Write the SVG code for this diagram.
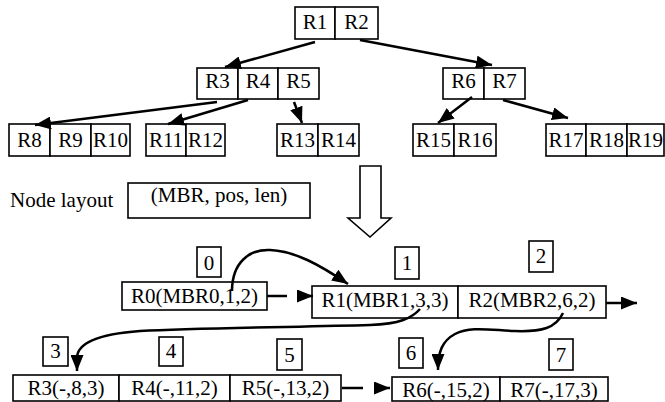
<svg xmlns="http://www.w3.org/2000/svg" width="665" height="402" viewBox="0 0 665 402" font-family="'Liberation Serif', 'Times New Roman', serif">
<defs>
<style>
text{font-family:'Liberation Serif','Times New Roman',serif}
.b{fill:#fff;stroke:#000;stroke-width:1.6}
.t{font-size:21px;fill:#000;text-anchor:middle}
.tl{font-size:21px;fill:#000}
.c{fill:none;stroke:#000;stroke-width:2.5}
</style>
<marker id="ah" markerUnits="userSpaceOnUse" markerWidth="17" markerHeight="13" refX="16" refY="6.5" orient="auto" viewBox="0 0 17 13">
<path d="M0,0 L16,6.5 L0,13 z" fill="#000"/>
</marker>
</defs>
<rect width="665" height="402" fill="#fff"/>

<g id="n-r1r2">
<rect class="b" x="295" y="7" width="40" height="32"/><rect class="b" x="335" y="7" width="43" height="32"/>
<text class="t" x="315" y="29">R1</text><text class="t" x="356.5" y="29">R2</text>
</g>
<g id="n-r3r4r5">
<rect class="b" x="197" y="68" width="41" height="31"/><rect class="b" x="238" y="68" width="40" height="31"/><rect class="b" x="278" y="68" width="41" height="31"/>
<text class="t" x="217.5" y="88">R3</text><text class="t" x="258" y="88">R4</text><text class="t" x="298.5" y="88">R5</text>
</g>
<g id="n-r6r7">
<rect class="b" x="443" y="68" width="41" height="31"/><rect class="b" x="484" y="68" width="41" height="31"/>
<text class="t" x="463.5" y="88">R6</text><text class="t" x="504.5" y="88">R7</text>
</g>
<g id="n-r8r9r10">
<rect class="b" x="9" y="124" width="41" height="32"/><rect class="b" x="50" y="124" width="41" height="32"/><rect class="b" x="91" y="124" width="39" height="32"/>
<text class="t" x="29.5" y="147">R8</text><text class="t" x="70.5" y="147">R9</text><text class="t" x="110.5" y="147">R10</text>
</g>
<g id="n-r11r12">
<rect class="b" x="146" y="124" width="40" height="32"/><rect class="b" x="186" y="124" width="39" height="32"/>
<text class="t" x="166" y="147">R11</text><text class="t" x="205.5" y="147">R12</text>
</g>
<g id="n-r13r14">
<rect class="b" x="277" y="124" width="41" height="32"/><rect class="b" x="318" y="124" width="41" height="32"/>
<text class="t" x="297.5" y="147">R13</text><text class="t" x="338.5" y="147">R14</text>
</g>
<g id="n-r15r16">
<rect class="b" x="413" y="124" width="41" height="32"/><rect class="b" x="454" y="124" width="42" height="32"/>
<text class="t" x="433.5" y="147">R15</text><text class="t" x="475" y="147">R16</text>
</g>
<g id="n-r17r18r19">
<rect class="b" x="546" y="124" width="40" height="32"/><rect class="b" x="586" y="124" width="41" height="32"/><rect class="b" x="627" y="124" width="37" height="32"/>
<text class="t" x="566" y="147">R17</text><text class="t" x="606.5" y="147">R18</text><text class="t" x="645.5" y="147">R19</text>
</g>

<g id="layout-label">
<text class="tl" x="10" y="207">Node layout</text>
<rect class="b" x="128" y="183" width="182" height="35"/>
<text class="t" x="219" y="202">(MBR, pos, len)</text>
</g>
<g id="big-arrow">
<polygon points="360,166 381,166 381,218 391,218 370,237 348,218 360,218" fill="#fff" stroke="#000" stroke-width="1.6"/>
</g>

<g id="n-i0"><rect class="b" x="197" y="247" width="24" height="30"/><text class="t" x="209" y="270">0</text></g>
<g id="n-i1"><rect class="b" x="395" y="247" width="24" height="32"/><text class="t" x="407" y="270">1</text></g>
<g id="n-i2"><rect class="b" x="529" y="241" width="24" height="31"/><text class="t" x="541" y="263">2</text></g>
<g id="n-r0"><rect class="b" x="122" y="282" width="145" height="28"/><text class="t" x="194.5" y="303">R0(MBR0,1,2)</text></g>
<g id="n-r1"><rect class="b" x="312" y="286" width="146" height="32"/><text class="t" x="385" y="307">R1(MBR1,3,3)</text></g>
<g id="n-r2"><rect class="b" x="458" y="286" width="148" height="32"/><text class="t" x="532" y="307">R2(MBR2,6,2)</text></g>

<g id="n-i3"><rect class="b" x="43" y="337" width="25" height="29"/><text class="t" x="55.5" y="358">3</text></g>
<g id="n-i4"><rect class="b" x="159" y="337" width="24" height="29"/><text class="t" x="171" y="358">4</text></g>
<g id="n-i5"><rect class="b" x="277" y="339" width="25" height="31"/><text class="t" x="289.5" y="362">5</text></g>
<g id="n-i6"><rect class="b" x="399" y="338" width="24" height="30"/><text class="t" x="411" y="360">6</text></g>
<g id="n-i7"><rect class="b" x="549" y="339" width="24" height="31"/><text class="t" x="561" y="362">7</text></g>
<g id="n-r3"><rect class="b" x="13" y="375" width="106" height="26"/><text class="t" x="66" y="395">R3(-,8,3)</text></g>
<g id="n-r4"><rect class="b" x="119" y="375" width="111" height="26"/><text class="t" x="174.5" y="395">R4(-,11,2)</text></g>
<g id="n-r5"><rect class="b" x="230" y="375" width="111" height="26"/><text class="t" x="285.5" y="395">R5(-,13,2)</text></g>
<g id="n-r6"><rect class="b" x="392" y="377" width="108" height="24"/><text class="t" x="446" y="397">R6(-,15,2)</text></g>
<g id="n-r7"><rect class="b" x="500" y="377" width="108" height="24"/><text class="t" x="554" y="397">R7(-,17,3)</text></g>

<g id="connectors">
<path class="c" d="M315,42 L225,67" marker-end="url(#ah)"/>
<path class="c" d="M360,40 L492,65" marker-end="url(#ah)"/>
<path class="c" d="M217,102 L35,125" marker-end="url(#ah)"/>
<path class="c" d="M248,100 L168,124" marker-end="url(#ah)"/>
<path class="c" d="M294,102 L302,123" marker-end="url(#ah)"/>
<path class="c" d="M472,97 L438,123" marker-end="url(#ah)"/>
<path class="c" d="M503,100 L568,118" marker-end="url(#ah)"/>
<path class="c" d="M232,291 C232,262 250,249 270,250 C295,251 320,265 348,284" marker-end="url(#ah)"/>
<path class="c" d="M267,296 L287,296 M299,296 L313,296" marker-end="url(#ah)"/>
<path class="c" d="M606,303 L637,303" marker-end="url(#ah)"/>
<path class="c" d="M420,309 C412,318 400,324 370,325 C300,327 200,328 140,331 C100,334 77,343 77,358 L77,371" marker-end="url(#ah)"/>
<path class="c" d="M563,313 C556,328 542,332 515,331 C490,330 470,326 455,334 C442,341 438,352 438,370" marker-end="url(#ah)"/>
<path class="c" d="M342,388 L363,388 M374,388 L390,388" marker-end="url(#ah)"/>
</g>
</svg>
